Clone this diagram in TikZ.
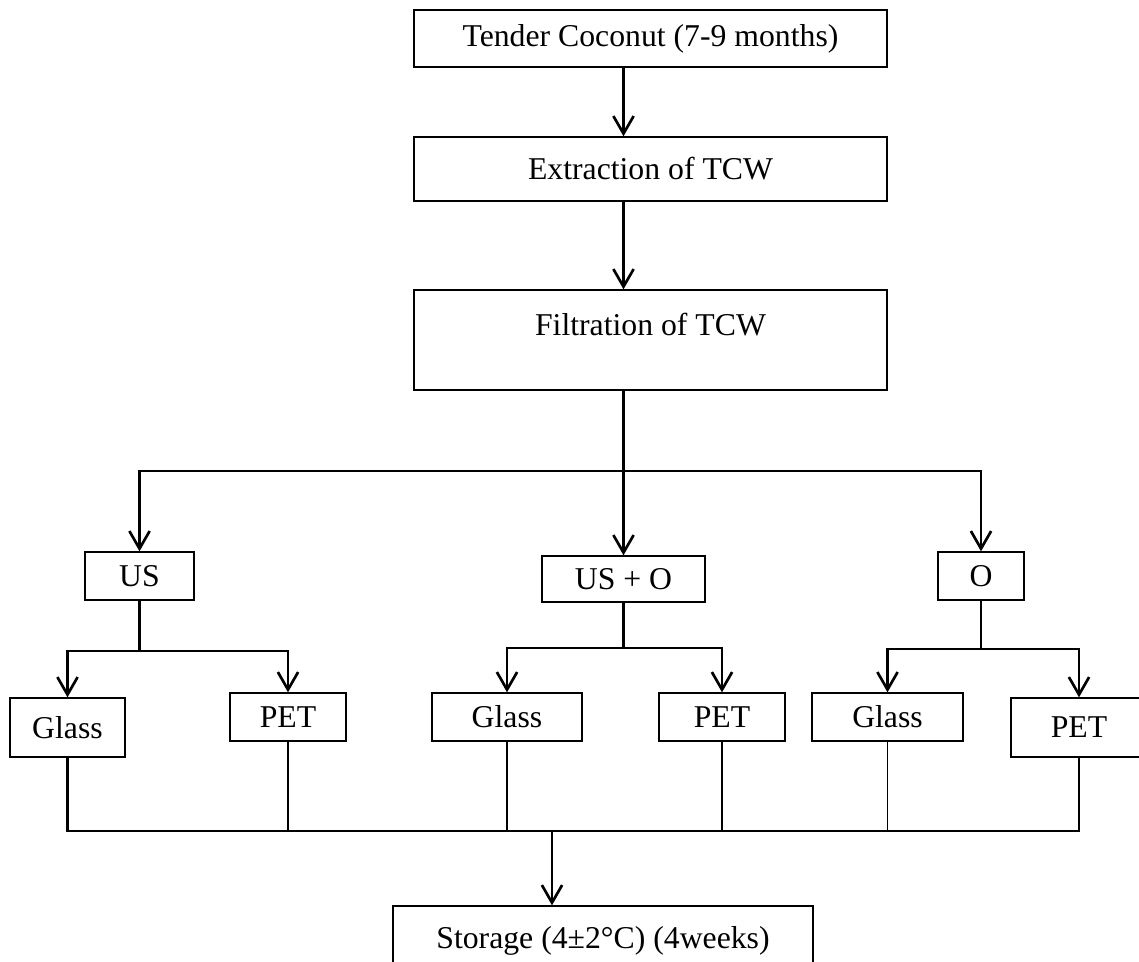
\documentclass[tikz,border=0pt]{standalone}
\usepackage{fontspec}
\setmainfont{Liberation Serif}
\usetikzlibrary{arrows.meta, calc, positioning}

\begin{document}
\begin{tikzpicture}[
  font=\fontsize{11.9}{14}\selectfont,
  box/.style 2 args={
    rectangle, draw=black, line width=0.5pt,
    minimum width=#1*0.375pt, minimum height=#2*0.375pt,
    inner sep=0pt, align=center,
  },
  link/.style={draw=black, line width=1pt},
  tie/.style={draw=black, line width=0.45pt},
  flow/.style={link, -{Straight Barb[length=6.6pt, width=7.6pt, line width=1pt]}},
  x=0.375pt, y=-0.375pt,
]
\clip[use as bounding box] (0,0) rectangle (1139,962);

\node[box={473}{57}]  at (650.5,38.5) (tender)  {Tender Coconut (7-9 months)};
\node[box={473}{64}]  at (650.5,169)  (extract) {Extraction of TCW};
\node[box={473}{100}, text height=16.9pt, text depth=20.6pt]
                      at (650.5,340)  (filter)  {Filtration of TCW};

% treatments
\node[box={109}{48}]  at (139.5,576)  (us)  {US};
\node[box={163}{46}]  at (623.5,579)  (uso) {US + O};
\node[box={86}{48}]   at (981,576)    (o)   {O};

% packaging
\node[box={115}{59}]  at (67.5,727.5) (glassA) {Glass};
\node[box={116}{48}]  at (288,717)    (petA)   {PET};
\node[box={150}{48}]  at (507,717)    (glassB) {Glass};
\node[box={126}{48}]  at (722,717)    (petB)   {PET};
\node[box={151}{48}]  at (887.5,717)  (glassC) {Glass};
\node[box={136}{59}]  at (1079,727.5) (petC)   {PET};

\node[box={420}{70}]  at (603,941)    (store)  {Storage (4±2°C) (4weeks)};

\coordinate (split)  at (623.5,471);
\coordinate (usfork) at (us |- 0,651);
\coordinate (usofork) at (uso |- 0,648);
\coordinate (ofork)  at (o |- 0,649);
\coordinate (bus)    at (552,831);

\draw[flow] (tender.south -| uso) -- (extract.north -| uso);
\draw[flow] (extract.south -| uso) -- (filter.north -| uso);
\draw[flow] (filter.south -| uso) -- (uso);
\draw[flow] (split) -| (us);
\draw[flow] (split) -| (o);

\draw[link] (us) -- (usfork);
\draw[flow] (usfork) -| (glassA);
\draw[flow] (usfork) -| (petA);
\draw[link] (uso) -- (usofork);
\draw[flow] (usofork) -| (glassB);
\draw[flow] (usofork) -| (petB);
\draw[link] (o) -- (ofork);
\draw[flow] (ofork) -| (glassC);
\draw[flow] (ofork) -| (petC);

\draw[link] (glassA) |- (bus);
\draw[link] (petC) |- (bus);
\draw[tie] (petA) -- (petA |- bus);
\draw[tie] (glassB) -- (glassB |- bus);
\draw[tie] (petB) -- (petB |- bus);
\draw[tie] (glassC) -- (glassC |- bus);
\draw[flow] (bus) -- (bus |- store.north);

\end{tikzpicture}
\end{document}
